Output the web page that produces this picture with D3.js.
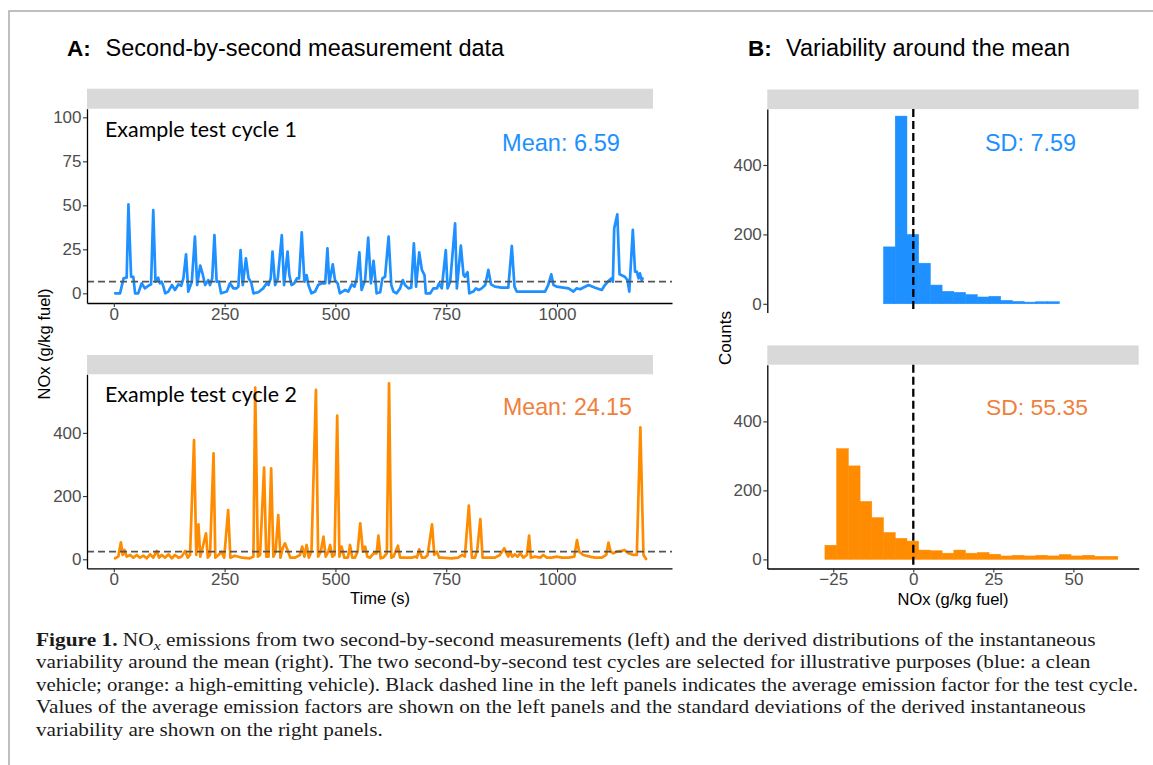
<!DOCTYPE html>
<html><head><meta charset="utf-8">
<script src="https://cdn.jsdelivr.net/npm/d3@7"></script>
<style>body{margin:0;background:#fff}svg{display:block}</style>
</head><body>
<svg id="c" width="1153" height="765"></svg>
<script>
// ---------------- DATA ----------------
const cycle1 = [[3,0],[14,0],[22,8.5],[29,8.9],[33,50.5],[39,9.4],[44,9.4],[48,0],[55,0],[63,5.7],[70,2.8],[78,4.3],[84,5.1],[89,47.3],[94,6.6],[100,8.9],[104,5.7],[108,6.6],[112,3.8],[116,0],[123,1],[131,4.7],[138,1.9],[146,5.1],[152,4.3],[157,8.5],[163,22.2],[168,1],[176,6.6],[183,32.2],[188,4.7],[195,15.8],[200,11.4],[206,4.7],[213,7.5],[217,4.7],[222,8.5],[227,33.1],[232,6.6],[237,6.6],[242,0],[255,1],[262,5.7],[270,2.8],[277,2.8],[281,3.8],[286,24.6],[291,4.7],[298,19.9],[304,8.5],[310,6.2],[315,0],[326,0.6],[337,2.8],[345,5.7],[349,4.7],[354,8.5],[358,23.7],[364,4.7],[370,8.5],[379,33.1],[384,4.7],[392,23.7],[396,10.4],[401,4.7],[407,5.7],[413,8.5],[418,8.5],[424,34.6],[430,6.6],[435,10.4],[439,4.7],[446,0],[454,1],[461,4.7],[469,5.7],[477,5.7],[482,25.6],[486,5.7],[494,16.5],[499,7.5],[505,5.7],[510,0],[522,1.9],[529,1],[537,5.1],[543,3.8],[548,8.5],[554,23.3],[559,1.9],[567,7.5],[574,31.6],[580,5.7],[586,18.5],[593,0],[601,0.6],[606,8.5],[612,9.4],[620,32.2],[626,4.7],[631,1],[638,0],[646,2.8],[652,7.5],[657,4.7],[665,2.8],[671,3.2],[677,28.4],[682,3.8],[689,23.3],[695,13.3],[701,10.4],[704,0],[714,0],[721,2.8],[729,2.8],[734,5.7],[740,2.8],[749,24.6],[753,2.8],[759,6.6],[770,39.8],[774,2.8],[783,27.1],[789,10.4],[792,9.4],[798,12],[802,0],[811,1],[817,2.8],[823,1.9],[830,2.8],[838,4.7],[845,13.3],[851,5.1],[860,3.8],[875,3.2],[890,3.2],[898,26.9],[904,3.8],[909,1],[973,1],[980,4.7],[987,10.8],[992,4.7],[999,3.8],[1026,2.8],[1037,1],[1044,2.8],[1052,2.3],[1071,4.7],[1086,3.2],[1101,1.9],[1108,4.7],[1116,7],[1123,8.5],[1126,6.6],[1129,36.9],[1136,44.9],[1141,10.8],[1153,9.4],[1159,7.5],[1163,1],[1171,36],[1176,12.3],[1180,12.3],[1184,8.5],[1187,11.4],[1191,7.5],[1193,8.5]];

const cycle2 = [[3,3.2],[10,8.4],[16,53.8],[20,13.7],[24,29.5],[29,8.4],[37,13.7],[44,5.1],[52,13.7],[59,5.1],[67,11.4],[74,3.2],[82,15.8],[89,5.1],[97,26.4],[102,5.1],[108,13.7],[116,5.1],[123,15.8],[131,3.2],[138,13.7],[146,5.1],[153,8.4],[161,26.4],[167,5.1],[172,13.7],[181,377.5],[186,13.7],[191,110.8],[195,8.4],[200,34.8],[208,82.3],[212,5.1],[217,13.7],[225,335.4],[229,5.1],[236,13.7],[243,24.2],[249,5.1],[258,156],[263,5.1],[273,11.4],[289,5.1],[307,3.2],[315,8.4],[319,543],[325,8.4],[330,13.7],[339,290],[344,8.4],[349,8.4],[355,288],[360,8.4],[365,24.2],[371,140.2],[376,5.1],[381,34.8],[386,50.6],[392,29.5],[398,5.1],[409,5.1],[420,13.7],[425,40],[430,8.4],[435,45.3],[440,5.1],[446,24.2],[456,535.8],[461,8.4],[467,24.2],[473,71.6],[478,8.4],[484,24.2],[488,45.3],[493,8.4],[498,13.7],[504,454.4],[509,8.4],[514,40],[520,5.1],[528,5.1],[533,45.3],[538,5.1],[544,5.1],[550,24.2],[556,113.9],[562,24.2],[567,40],[572,8.4],[578,5.1],[586,18.9],[593,18.9],[597,74.8],[602,3.2],[608,5.1],[616,18.9],[621,557],[626,5.1],[631,8.4],[641,43],[646,5.1],[657,5.1],[672,5.1],[680,8.4],[684,5.1],[689,31.6],[695,5.1],[702,5.1],[708,13.7],[718,110.8],[723,13.7],[729,24.2],[734,5.1],[740,5.1],[762,3.2],[777,5.1],[786,13.7],[792,8.4],[801,169.6],[808,5.1],[815,5.1],[820,29.5],[827,127.5],[832,5.1],[845,5.1],[860,5.1],[871,13.7],[881,34.8],[886,18.9],[890,8.4],[894,24.2],[899,8.4],[905,15.8],[911,8.4],[917,18.9],[924,5.1],[932,13.7],[937,74.8],[941,5.1],[950,8.4],[962,5.1],[969,13.7],[977,5.1],[988,5.1],[999,8.4],[1011,5.1],[1026,5.1],[1039,8.4],[1045,61],[1050,24.2],[1059,13.7],[1074,8.4],[1086,5.1],[1101,5.1],[1111,13.7],[1116,52.6],[1121,24.2],[1127,18.9],[1135,24.2],[1146,26.4],[1152,29.5],[1161,18.9],[1172,13.7],[1180,13.7],[1188,417.7],[1195,13.7],[1201,1]];

const cycle1Mean = 6.59, cycle2Mean = 24.15;
const cycle1SD = 7.59, cycle2SD = 55.35;

// histogram bin edges (deviation from mean, g/kg fuel)
const binEdges = [-27.6,-23.94,-20.28,-16.62,-12.96,-9.3,-5.64,-1.98,1.68,5.34,9.0,12.66,16.32,19.98,23.64,27.3,30.96,34.62,38.28,41.94,45.6,49.26,52.92,56.58,60.24,63.9];
const blueCounts   = [0,0,0,0,0,164,541,200,117,54,36,33,26.5,19.6,21.6,9.8,6.9,4.9,5.9,5.9,0,0,0,0,0];
const orangeCounts = [41,321,271,168,121,78,61,53,27,25,18,27,18,20,15,10,12,10,12,10,14,10,12,9,9];

const timeTicks = [0,250,500,750,1000];
const cycle1Ticks = [0,25,50,75,100];
const cycle2Ticks = [0,200,400];
const countTicks = [0,200,400];
const devTicks = [-25,0,25,50];

const captionLines = [
  "variability around the mean (right). The two second-by-second test cycles are selected for illustrative purposes (blue: a clean",
  "vehicle; orange: a high-emitting vehicle). Black dashed line in the left panels indicates the average emission factor for the test cycle.",
  "Values of the average emission factors are shown on the left panels and the standard deviations of the derived instantaneous",
  "variability are shown on the right panels."
];

// ---------------- DRAW ----------------
const BLUE = "#1E90FF", ORANGE = "#FF8C00", ORANGE_TXT = "#F07F3C";
const SANS = "'Liberation Sans', Arial, Helvetica, sans-serif";
const svg = d3.select("#c");

svg.append("path").attr("d","M9,765V11H1153").attr("fill","none").attr("stroke","#ababab").attr("stroke-width",1.5);

function fitW(sel, w){ const n = sel.node().getComputedTextLength(); sel.attr("font-size", parseFloat(sel.attr("font-size"))*w/n); return sel; }

// titles
function title(x, lab, x2, txt, w){
  svg.append("text").attr("x",x).attr("y",56).attr("font-family",SANS).attr("font-weight","bold").attr("font-size",22.5).text(lab);
  fitW(svg.append("text").attr("x",x2).attr("y",56).attr("font-family",SANS).attr("font-size",22).text(txt), w);
}
title(67,"A:",105.5,"Second-by-second measurement data",399);
title(748,"B:",786,"Variability around the mean",284);

// scales
const xTime = d3.scaleLinear().domain([-60.5,1259.4]).range([87,672]);
const yC1 = d3.scaleLinear().domain([-5.5,104.9]).range([303,108.7]);
const yC2 = d3.scaleLinear().domain([-28.5,585.4]).range([568.3,374.3]);
const xDev = d3.scaleLinear().domain([-45.6,70.4]).range([767.3,1138.7]);
const yCntT = d3.scaleLinear().domain([-25.4,561.1]).range([312.6,109.1]);
const yCntB = d3.scaleLinear().domain([-26.4,564.3]).range([568.5,364.7]);

function strip(x0,x1,y0,y1){ svg.append("rect").attr("x",x0).attr("y",y0).attr("width",x1-x0).attr("height",y1-y0).attr("fill","#D9D9D9"); }
strip(87,653,88.7,108.7);
strip(87,653,355,374.3);
strip(767.3,1138.7,89.5,109.1);
strip(767.3,1138.7,345.4,364.7);

function styleAxis(g, fs){
  g.select(".domain").attr("stroke","#000").attr("stroke-width",1.3);
  g.selectAll(".tick line").attr("stroke","#333").attr("stroke-width",1.1);
  g.selectAll(".tick text").attr("fill","#4D4D4D").attr("font-size",fs).attr("font-family",SANS);
}
function axisL(scale, ticks, x, fs){
  const g = svg.append("g").attr("transform",`translate(${x},0)`)
    .call(d3.axisLeft(scale).tickValues(ticks).tickSize(4).tickSizeOuter(0).tickPadding(1.5).tickFormat(d3.format("d")));
  styleAxis(g, fs); return g;
}
function axisB(scale, ticks, y, fs){
  const g = svg.append("g").attr("transform",`translate(0,${y})`)
    .call(d3.axisBottom(scale).tickValues(ticks).tickSize(4).tickSizeOuter(0).tickPadding(0.5).tickFormat(d3.format("d")));
  styleAxis(g, fs); return g;
}

// time-series panels
function series(data, yS, color){
  svg.append("path").datum(data)
    .attr("d", d3.line().x(d=>xTime(d[0])).y(d=>yS(d[1])))
    .attr("fill","none").attr("stroke",color).attr("stroke-width",2.7)
    .attr("stroke-linejoin","round").attr("stroke-linecap","round");
}
function meanLine(m, yS){
  svg.append("line").attr("x1",87).attr("x2",672).attr("y1",yS(m)).attr("y2",yS(m))
    .attr("stroke","#555").attr("stroke-width",1.8).attr("stroke-dasharray","7,4");
}
series(cycle1, yC1, BLUE);
meanLine(cycle1Mean, yC1);
series(cycle2, yC2, ORANGE);
meanLine(cycle2Mean, yC2);

axisL(yC1, cycle1Ticks, 87, 17);
axisB(xTime, timeTicks, 303, 17);
axisL(yC2, cycle2Ticks, 87, 17);
axisB(xTime, timeTicks, 568.3, 17);

const ANN = "Lato, 'Open Sans', sans-serif";
fitW(svg.append("text").attr("x",105).attr("y",137).attr("font-family",ANN).attr("font-size",20).attr("fill","#000").text("Example test cycle 1"),192);
fitW(svg.append("text").attr("x",105).attr("y",402).attr("font-family",ANN).attr("font-size",20).attr("fill","#000").text("Example test cycle 2"),192);
fitW(svg.append("text").attr("x",502).attr("y",151).attr("font-family",SANS).attr("font-size",22).attr("fill",BLUE).text("Mean: " + cycle1Mean.toFixed(2)),118);
fitW(svg.append("text").attr("x",503).attr("y",415).attr("font-family",SANS).attr("font-size",22).attr("fill",ORANGE_TXT).text("Mean: " + cycle2Mean.toFixed(2)),129);

// histogram panels
function hist(counts, yS, color){
  const bins = counts.map((c,i)=>({x0:binEdges[i], x1:binEdges[i+1], c})).filter(b=>b.c>0);
  svg.append("g").selectAll("rect").data(bins).join("rect")
    .attr("x",b=>xDev(b.x0)).attr("width",b=>xDev(b.x1)-xDev(b.x0))
    .attr("y",b=>yS(b.c)).attr("height",b=>yS(0)-yS(b.c))
    .attr("fill",color).attr("stroke",color).attr("stroke-width",0.5);
}
hist(blueCounts, yCntT, BLUE);
hist(orangeCounts, yCntB, ORANGE);
function vline(yS){
  const r = yS.range();
  svg.append("line").attr("x1",xDev(0)).attr("x2",xDev(0)).attr("y1",r[1]).attr("y2",r[0])
    .attr("stroke","#000").attr("stroke-width",2.3).attr("stroke-dasharray","8,4");
}
vline(yCntT); vline(yCntB);
axisL(yCntT, countTicks, 767.3, 17);
axisL(yCntB, countTicks, 767.3, 17);
axisB(xDev, devTicks, 568.5, 17).selectAll(".tick text").text(d=>d<0?"\u2212"+Math.abs(d):d);

fitW(svg.append("text").attr("x",985).attr("y",151).attr("font-family",SANS).attr("font-size",22).attr("fill",BLUE).text("SD: " + cycle1SD.toFixed(2)),91);
fitW(svg.append("text").attr("x",986).attr("y",415).attr("font-family",SANS).attr("font-size",22).attr("fill",ORANGE_TXT).text("SD: " + cycle2SD.toFixed(2)),102);

// axis titles
svg.append("text").attr("transform","translate(49.5,344) rotate(-90)").attr("text-anchor","middle").attr("font-family",SANS).attr("font-size",16.5).text("NOx (g/kg fuel)");
svg.append("text").attr("x",380).attr("y",603.5).attr("text-anchor","middle").attr("font-family",SANS).attr("font-size",16.5).text("Time (s)");
svg.append("text").attr("transform","translate(730.5,338) rotate(-90)").attr("text-anchor","middle").attr("font-family",SANS).attr("font-size",17).text("Counts");
svg.append("text").attr("x",953).attr("y",604.5).attr("text-anchor","middle").attr("font-family",SANS).attr("font-size",16.5).text("NOx (g/kg fuel)");

// caption
const SERIF = "'Liberation Serif', 'Times New Roman', serif";
const capY = [645.5, 668, 690.5, 713, 735.5];
const capW = [1060, 1055, 1103, 1050, 347];
function capLine(i, build){
  const g = svg.append("g");
  const t = g.append("text").attr("font-family",SERIF).attr("font-size",18.5).attr("fill","#1a1a1a");
  build(t);
  const w = t.node().getComputedTextLength();
  g.attr("transform",`translate(36,${capY[i]}) scale(${capW[i]/w},1)`);
}
capLine(0, t=>{
  t.append("tspan").attr("font-weight","bold").text("Figure 1.");
  t.append("tspan").text(" NO");
  t.append("tspan").attr("font-style","italic").attr("font-size",13.5).attr("dy",4).text("x");
  t.append("tspan").attr("dy",-4).text(" emissions from two second-by-second measurements (left) and the derived distributions of the instantaneous");
});
captionLines.forEach((s,i)=>capLine(i+1, t=>t.text(s)));
</script>
</body></html>
